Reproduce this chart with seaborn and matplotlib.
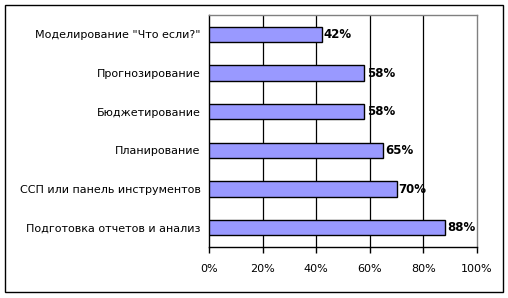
import matplotlib
matplotlib.use("Agg")
import matplotlib.pyplot as plt
import seaborn as sns
import pandas as pd
from matplotlib.patches import Rectangle

categories = ['Моделирование "Что если?"', "Прогнозирование", "Бюджетирование",
              "Планирование", "ССП или панель инструментов", "Подготовка отчетов и анализ"]
values = [42, 58, 58, 65, 70, 88]
xticks = [0, 20, 40, 60, 80, 100]
xtick_labels = ["0%", "20%", "40%", "60%", "80%", "100%"]

sns.set_style("white")
plt.rcParams['font.family'] = ['DejaVu Sans']
plt.rcParams['text.color'] = 'black'
plt.rcParams['xtick.color'] = 'black'
plt.rcParams['ytick.color'] = 'black'
plt.rcParams['axes.labelcolor'] = 'black'

df = pd.DataFrame({"cat": categories, "val": values})

fig = plt.figure(figsize=(5.08, 2.98), dpi=100)
ax = fig.add_axes([209/508, 51/298, 268/508, 232/298])

sns.barplot(data=df, y="cat", x="val", orient="h", color="#9999FF",
            saturation=1, width=0.39, edgecolor="black", linewidth=1, ax=ax, zorder=3)

ax.set_xlim(0, 100)
ax.set_xticks(xticks)
ax.set_xticklabels(xtick_labels, fontsize=8)
ax.set_xlabel("")
ax.set_ylabel("")
ax.tick_params(axis="y", labelsize=8, length=0, pad=6, labelcolor="black")
ax.tick_params(axis="x", length=4, width=1, color="black", direction="out", pad=8,
               bottom=True, labelcolor="black")
for t in xticks[1:-1]:
    ax.axvline(t, color="black", linewidth=0.9, zorder=1)
for side in ["top", "right"]:
    ax.spines[side].set_color("#808080")
    ax.spines[side].set_linewidth(1)
for side in ["left", "bottom"]:
    ax.spines[side].set_color("black")
    ax.spines[side].set_linewidth(1)

for i, v in enumerate(values):
    ax.text(v + 0.8, i, f"{v}%", va="center", ha="left", fontsize=8.5,
            fontweight="bold", color="black", zorder=4)

fig.patches.append(Rectangle((5/508, 6/298), 498/508, 287/298, transform=fig.transFigure,
                             fill=False, edgecolor="black", linewidth=1))

fig.savefig("out.png", dpi=100)
